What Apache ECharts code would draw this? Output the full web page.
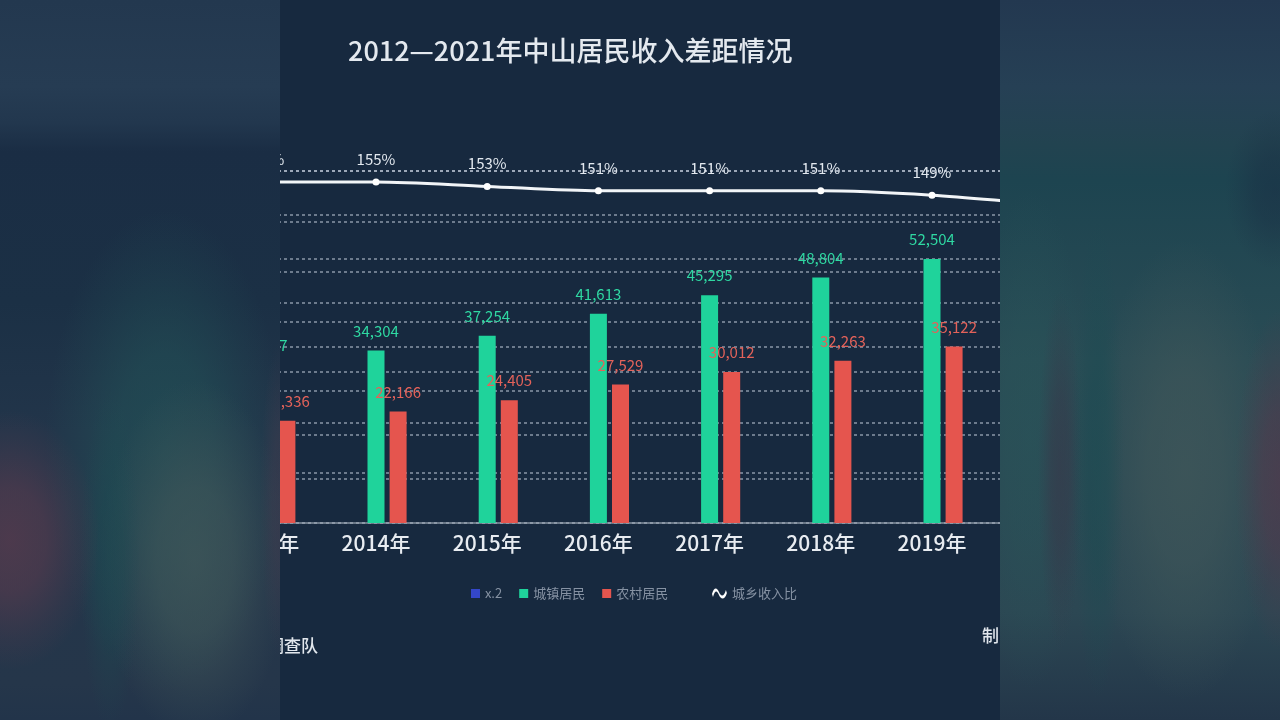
<!DOCTYPE html>
<html><head><meta charset="utf-8">
<script src="https://cdn.jsdelivr.net/npm/echarts@6/dist/echarts.min.js"></script>
<style>html,body{margin:0;padding:0;background:#17293f;}#c{width:1280px;height:720px;}</style>
</head><body><div id="c"></div>
<script>
const years = ['2012年','2013年','2014年','2015年','2016年','2017年','2018年','2019年','2020年','2021年'];
const x2Values = ['-','-','-','-','-','-','-','-','-','-'];
const urbanIncome = [28964, 31517, 34304, 37254, 41613, 45295, 48804, 52504, 54290, 58596];
const ruralIncome = [18687, 20336, 22166, 24405, 27529, 30012, 32263, 35122, 37434, 41222];
const incomeRatio = [155, 155, 155, 153, 151, 151, 151, 149, 145, 142];
const titleText = '2012—2021年中山居民收入差距情况';
const sourceText = '数据来源：国家统计局中山调查队';
const makerText = '制图：中山日报';

const FONT = "'Noto Sans CJK SC','Noto Sans',sans-serif";
const chart = echarts.init(document.getElementById('c'));

function rgba(c, a) { return 'rgba(' + c + ',' + a + ')'; }
function glow(x0, x1, cx, cy, rx, ry, c, a, z) {
  return {
    type: 'rect', x: cx, y: cy, scaleX: rx / 100, scaleY: ry / 100, z: z || 101, silent: true,
    shape: { x: (x0 - cx) * 100 / rx, y: -100, width: (x1 - x0) * 100 / rx, height: 200 },
    style: { fill: new echarts.graphic.RadialGradient(0, 0, 100, [
      { offset: 0, color: rgba(c, a) }, { offset: 0.4, color: rgba(c, a * 0.8) },
      { offset: 0.75, color: rgba(c, a * 0.3) }, { offset: 1, color: rgba(c, 0) }], true) }
  };
}

const wave = 'path://M0,7 C2,0 5,0 7,5 C9,10 12,10 14,3 L15,6 C13,13 9,13 7,8 C5,3 3,3 1,10 Z';

const option = {
  backgroundColor: '#17293f',
  textStyle: { fontFamily: FONT },
  title: {
    text: titleText, left: 343, top: 32,
    textStyle: { color: '#e4e9ef', fontSize: 27, fontWeight: 500, fontFamily: FONT }
  },
  legend: [
    {
      data: ['x.2', '城镇居民', '农村居民'], left: 466, top: 582, icon: 'rect',
      itemWidth: 9, itemHeight: 9, itemGap: 17,
      textStyle: { color: '#8692a3', fontSize: 13, fontFamily: FONT }
    },
    {
      data: [{ name: '城乡收入比', icon: wave }], left: 707, top: 582,
      itemWidth: 15, itemHeight: 10,
      textStyle: { color: '#8692a3', fontSize: 13, fontFamily: FONT }
    }
  ],
  grid: { left: 98, right: 70, top: 171, bottom: 197 },
  xAxis: {
    type: 'category', data: years,
    axisLine: { lineStyle: { color: '#8792a1', width: 1.5 } },
    axisTick: { alignWithLabel: true, length: 4, lineStyle: { color: '#8792a1' } },
    axisLabel: { color: '#e8ecf1', fontSize: 21, fontWeight: 500, margin: 10, fontFamily: FONT }
  },
  yAxis: [
    {
      type: 'value', min: 0, max: 70000, interval: 10000,
      axisLabel: { show: false }, axisLine: { show: false }, axisTick: { show: false },
      splitLine: { lineStyle: { color: 'rgba(215,225,238,0.6)', type: [3, 3], width: 1.5 } }
    },
    {
      type: 'value', min: 0, max: 160, interval: 20,
      axisLabel: { show: false }, axisLine: { show: false }, axisTick: { show: false },
      splitLine: { lineStyle: { color: 'rgba(215,225,238,0.6)', type: [3, 3], width: 1.5 } }
    }
  ],
  series: [
    {
      name: 'x.2', type: 'bar', data: x2Values, barWidth: 17, barGap: '30%',
      itemStyle: { color: '#3447c9' }
    },
    {
      name: '城镇居民', type: 'bar', data: urbanIncome, barWidth: 17, barGap: '30%',
      itemStyle: { color: '#1fd39b' },
      label: {
        show: true, position: 'top', distance: 12, color: '#2fd8a2', fontSize: 15, fontFamily: FONT,
        formatter: p => Number(p.value).toLocaleString('en-US')
      }
    },
    {
      name: '农村居民', type: 'bar', data: ruralIncome, barWidth: 17, barGap: '30%',
      itemStyle: { color: '#e5554e' },
      label: {
        show: true, position: 'top', distance: 12, color: '#e3625a', fontSize: 15, fontFamily: FONT,
        formatter: p => Number(p.value).toLocaleString('en-US')
      }
    },
    {
      name: '城乡收入比', type: 'line', yAxisIndex: 1, data: incomeRatio, smooth: 0.3,
      symbol: 'circle', symbolSize: 7, z: 5,
      lineStyle: { color: '#f2f5f8', width: 3 },
      itemStyle: { color: '#ffffff' },
      label: { show: true, position: 'top', distance: 12, color: '#e2e8ef', fontSize: 15, fontFamily: FONT, formatter: '{c}%' }
    }
  ],
  graphic: [
    { type: 'text', z: 50, style: { text: sourceText, x: 318, y: 646, align: 'right', verticalAlign: 'middle', fill: '#e2e7ed', font: "500 17px 'Noto Sans CJK SC'" } },
    { type: 'text', z: 50, style: { text: makerText, x: 982, y: 636, align: 'left', verticalAlign: 'middle', fill: '#e2e7ed', font: "500 17px 'Noto Sans CJK SC'" } },
    // left blurred panel
    { type: 'rect', z: 100, silent: true, shape: { x: 0, y: 0, width: 280, height: 720 },
      style: { fill: new echarts.graphic.LinearGradient(0, 0, 0, 1, [
        { offset: 0, color: '#23384f' }, { offset: 0.12, color: '#263c53' }, { offset: 0.17, color: '#22374e' },
        { offset: 0.21, color: '#1a2d44' }, { offset: 0.42, color: '#1b3045' }, { offset: 0.6, color: '#22354a' },
        { offset: 0.95, color: '#25364a' }, { offset: 1, color: '#22344a' }]) } },
    glow(0, 280, 165, 450, 120, 240, '34,80,86', 0.75),
    glow(0, 280, 195, 560, 95, 180, '66,88,90', 0.75, 102),
    glow(0, 280, 110, 560, 30, 170, '28,76,82', 0.5, 102),
    glow(0, 280, 10, 540, 90, 130, '98,60,78', 0.65, 102),
    glow(0, 280, 280, 500, 20, 160, '70,62,80', 0.5, 102),
    // right blurred panel
    { type: 'rect', z: 100, silent: true, shape: { x: 1000, y: 0, width: 280, height: 720 },
      style: { fill: new echarts.graphic.LinearGradient(0, 0, 0, 1, [
        { offset: 0, color: '#233850' }, { offset: 0.12, color: '#264055' }, { offset: 0.2, color: '#224350' },
        { offset: 0.25, color: '#1d4450' }, { offset: 0.5, color: '#2a4c55' }, { offset: 0.85, color: '#2c4753' },
        { offset: 1, color: '#233649' }]) } },
    glow(1000, 1280, 1185, 470, 95, 230, '66,88,90', 0.72),
    glow(1000, 1280, 1030, 440, 60, 250, '40,86,90', 0.5),
    glow(1000, 1280, 1060, 470, 22, 180, '58,52,72', 0.55, 102),
    glow(1000, 1280, 1098, 460, 26, 240, '25,76,82', 0.55, 102),
    glow(1000, 1280, 1280, 480, 45, 170, '88,56,76', 0.65, 102),
    glow(1000, 1280, 1275, 190, 50, 80, '25,42,66', 0.45, 102)
  ]
};
chart.setOption(option);
</script>
</body></html>
